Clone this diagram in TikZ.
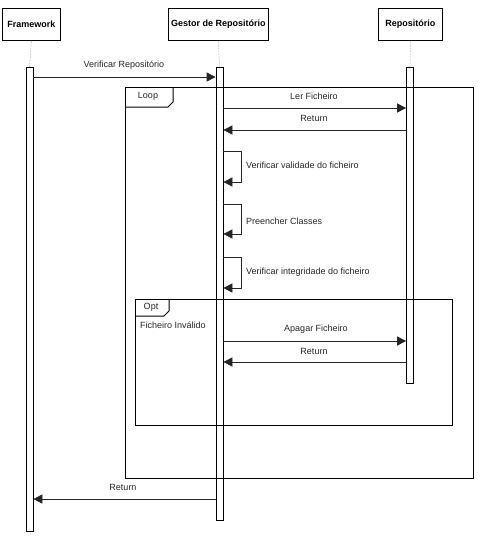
\documentclass[tikz,border=0pt]{standalone}
\usepackage{fontspec}
\setmainfont{Liberation Sans}
\usetikzlibrary{arrows.meta}
\begin{document}
\begin{tikzpicture}[x=1pt,y=-1pt,
  head/.style={draw, line width=0.8pt, fill=white, font=\fontsize{9}{11}\selectfont\bfseries, inner sep=0pt, anchor=north west},
  bar/.style={draw, line width=0.7pt, fill=white, minimum width=7pt, inner sep=0pt, anchor=north},
  life/.style={densely dotted, line width=0.5pt, gray},
  msg/.style={line width=0.7pt, black!85, -{Triangle[length=9pt,width=9pt]}},
  lbl/.style={font=\fontsize{9}{11}\selectfont, inner sep=0pt, text=black!85},
  frame/.style={draw, line width=1.4pt, inner sep=0pt, anchor=north west}
]
\useasboundingbox (0,0) rectangle (478,536);
% headers
\node[head, minimum width=58pt, minimum height=32pt] (fw) at (2,8) {Framework};
\node[head, minimum width=100pt, minimum height=32pt] (gr) at (168,8) {Gestor de Repositório};
\node[head, minimum width=64pt, minimum height=32pt] (rp) at (378,8) {Repositório};
% activation bars
\node[bar, minimum height=464pt] (fwb) at (29.5,67) {};
\node[bar, minimum height=453pt] (grb) at (219.5,67) {};
\node[bar, minimum height=316pt] (rpb) at (410,67) {};
% lifelines
\draw[life] (fw.south) -- (fwb.north);
\draw[life] (gr.south) -- (grb.north);
\draw[life] (rp.south) -- (rpb.north);
% Verificar Repositorio
\draw[msg] (fwb.east |- 0,77) -- (grb.west |- 0,77);
\node[lbl] (m1) at (124,65) {Verificar Repositório};
% loop frame
\node[frame, minimum width=348pt, minimum height=391pt] (loop) at (125,87) {};
\draw[line width=1pt] (125,107) -- (168,107) -- (173,102) -- (173,87);
\node[lbl] (looplbl) at (148,96) {Loop};
% Ler Ficheiro
\draw[msg] (grb.east |- 0,108) -- (rpb.west |- 0,108);
\node[lbl] (m2) at (314,96) {Ler Ficheiro};
\draw[msg] (rpb.west |- 0,130) -- (grb.east |- 0,130);
\node[lbl] (m3) at (314,118) {Return};
% self calls
\coordinate (s1a) at (241,151);
\coordinate (s1b) at (241,182);
\draw[msg] (grb.east |- s1a) -- (s1a) -- (s1b) -- (grb.east |- s1b);
\node[lbl, anchor=west] (m4) at (246,165) {Verificar validade do ficheiro};
\coordinate (s2a) at (241,204);
\coordinate (s2b) at (241,234);
\draw[msg] (grb.east |- s2a) -- (s2a) -- (s2b) -- (grb.east |- s2b);
\node[lbl, anchor=west] (m5) at (246,221) {Preencher Classes};
\coordinate (s3a) at (241,257);
\coordinate (s3b) at (241,288);
\draw[msg] (grb.east |- s3a) -- (s3a) -- (s3b) -- (grb.east |- s3b);
\node[lbl, anchor=west] (m6) at (246,272) {Verificar integridade do ficheiro};
% opt frame
\node[frame, minimum width=317pt, minimum height=126pt] (opt) at (135,299) {};
\draw[line width=1pt] (135,316) -- (164,316) -- (169,311) -- (169,299);
\node[lbl] (optlbl) at (151,307) {Opt};
\node[lbl, anchor=west] (cond) at (140,325) {Ficheiro Inválido};
\draw[msg] (grb.east |- 0,341) -- (rpb.west |- 0,341);
\node[lbl] (m7) at (316,329) {Apagar Ficheiro};
\draw[msg] (rpb.west |- 0,362) -- (grb.east |- 0,362);
\node[lbl] (m8) at (314,351) {Return};
% final return
\draw[msg] (grb.west |- 0,499) -- (fwb.east |- 0,499);
\node[lbl] (m9) at (123,487) {Return};
\end{tikzpicture}
\end{document}
